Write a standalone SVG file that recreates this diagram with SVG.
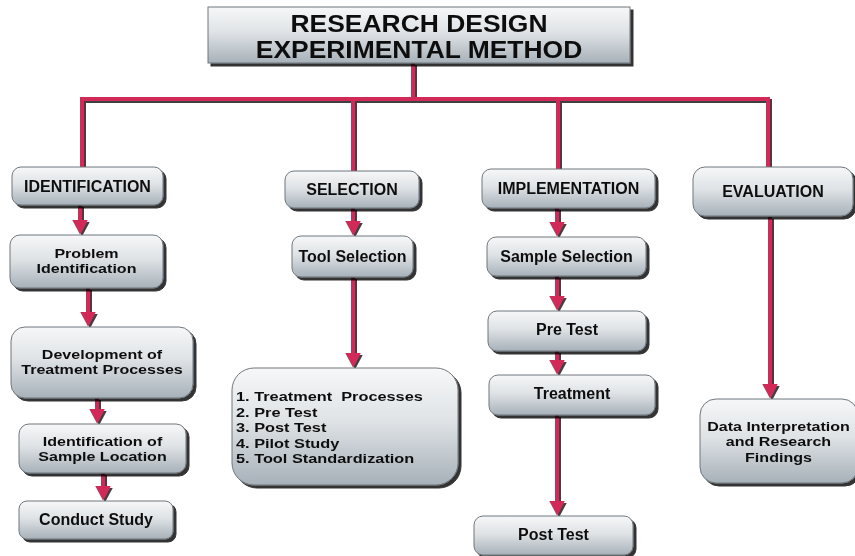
<svg xmlns="http://www.w3.org/2000/svg" width="855" height="556" viewBox="0 0 855 556">
  <defs>
    <linearGradient id="boxFill" x1="0" y1="0" x2="0" y2="1">
      <stop offset="0" stop-color="#f6f7f8"/>
      <stop offset="0.45" stop-color="#dfe3e6"/>
      <stop offset="1" stop-color="#a7b1b9"/>
    </linearGradient>
    <filter id="boxShadow" x="-5%" y="-10%" width="115%" height="130%">
      <feOffset in="SourceAlpha" dx="3" dy="3" result="off"/>
      <feGaussianBlur in="off" stdDeviation="0.7" result="blur"/>
      <feComponentTransfer in="blur" result="dark">
        <feFuncA type="linear" slope="0.8"/>
      </feComponentTransfer>
      <feMerge>
        <feMergeNode in="dark"/>
        <feMergeNode in="SourceGraphic"/>
      </feMerge>
    </filter>
    <filter id="lineShadow" x="-10%" y="-10%" width="120%" height="120%">
      <feOffset in="SourceAlpha" dx="2" dy="2" result="off"/>
      <feGaussianBlur in="off" stdDeviation="0.5" result="blur"/>
      <feComponentTransfer in="blur" result="dark">
        <feFuncA type="linear" slope="0.75"/>
      </feComponentTransfer>
      <feMerge>
        <feMergeNode in="dark"/>
        <feMergeNode in="SourceGraphic"/>
      </feMerge>
    </filter>
    <marker id="head" markerUnits="userSpaceOnUse" markerWidth="16" markerHeight="16" refX="0.5" refY="8" orient="auto">
      <path d="M0,0 L15,8 L0,16 Z" fill="#d12a58"/>
    </marker>
  </defs>
  <style>
    .box { fill: url(#boxFill); stroke: #6f777d; stroke-width: 1; }
    .node { filter: url(#boxShadow); }
    .t { font-family: "Liberation Sans", Arial, sans-serif; font-weight: bold; font-size: 16px; fill: #111; text-anchor: middle; }
    .title { font-size: 23px; }
    .small { font-size: 13.5px; }
    .list { text-anchor: start; }
    .wire { fill: none; stroke: #d12a58; stroke-width: 4; stroke-linejoin: miter; }
    .arrow { fill: none; stroke: #d12a58; stroke-width: 4; marker-end: url(#head); }
  </style>

  <rect width="855" height="556" fill="#ffffff"/>

  <!-- connectors -->
  <g id="connectors" filter="url(#lineShadow)">
    <path class="wire" d="M413,63 V99 M82,167 V99 H768 V167 M353,99 V171 M558,99 V169"/>
    <line class="arrow" x1="80" y1="205" x2="80" y2="220"/>
    <line class="arrow" x1="88" y1="288" x2="88" y2="312"/>
    <line class="arrow" x1="97" y1="398" x2="97" y2="409"/>
    <line class="arrow" x1="103" y1="473" x2="103" y2="486"/>
    <line class="arrow" x1="353" y1="208" x2="353" y2="221"/>
    <line class="arrow" x1="353" y1="277" x2="353" y2="353"/>
    <line class="arrow" x1="557" y1="208" x2="557" y2="222"/>
    <line class="arrow" x1="557" y1="276" x2="557" y2="296"/>
    <line class="arrow" x1="557" y1="351" x2="557" y2="360"/>
    <line class="arrow" x1="557" y1="415" x2="557" y2="501"/>
    <line class="arrow" x1="770" y1="217" x2="770" y2="384"/>
  </g>

  <!-- title -->
  <g id="title" class="node">
    <rect class="box" x="208" y="7" width="422" height="56"/>
    <g transform="translate(419 0) scale(1.15 1)">
      <text class="t title" x="0" y="32">RESEARCH DESIGN</text>
      <text class="t title" x="0" y="58">EXPERIMENTAL METHOD</text>
    </g>
  </g>

  <!-- identification column -->
  <g id="identification" class="node">
    <rect class="box" x="12" y="167" width="151" height="38" rx="9"/>
    <text class="t" x="87.5" y="192">IDENTIFICATION</text>
  </g>
  <g id="problem-identification" class="node">
    <rect class="box" x="10" y="235" width="153" height="53" rx="10"/>
    <g transform="translate(86.5 0) scale(1.19 1)">
      <text class="t small" x="0" y="258">Problem</text>
      <text class="t small" x="0" y="273.5">Identification</text>
    </g>
  </g>
  <g id="treatment-development" class="node">
    <rect class="box" x="11" y="327" width="182" height="71" rx="14"/>
    <g transform="translate(102 0) scale(1.19 1)">
      <text class="t small" x="0" y="359">Development of</text>
      <text class="t small" x="0" y="374.5">Treatment Processes</text>
    </g>
  </g>
  <g id="sample-location" class="node">
    <rect class="box" x="19" y="424" width="167" height="49" rx="10"/>
    <g transform="translate(102.5 0) scale(1.19 1)">
      <text class="t small" x="0" y="446">Identification of</text>
      <text class="t small" x="0" y="461.5">Sample Location</text>
    </g>
  </g>
  <g id="conduct-study" class="node">
    <rect class="box" x="19" y="501" width="154" height="38" rx="8"/>
    <text class="t" x="96" y="525">Conduct Study</text>
  </g>

  <!-- selection column -->
  <g id="selection" class="node">
    <rect class="box" x="285" y="171" width="134" height="37" rx="9"/>
    <text class="t" x="352" y="195">SELECTION</text>
  </g>
  <g id="tool-selection" class="node">
    <rect class="box" x="292" y="236" width="121" height="41" rx="9"/>
    <text class="t" x="352.5" y="262">Tool Selection</text>
  </g>
  <g id="selection-steps" class="node">
    <rect class="box" x="232" y="368" width="226" height="117" rx="22"/>
    <g transform="translate(236 0) scale(1.21 1)">
      <text class="t small list" x="0" y="401.5" xml:space="preserve">1. Treatment  Processes</text>
      <text class="t small list" x="0" y="417">2. Pre Test</text>
      <text class="t small list" x="0" y="432.5">3. Post Test</text>
      <text class="t small list" x="0" y="448">4. Pilot Study</text>
      <text class="t small list" x="0" y="463.5">5. Tool Standardization</text>
    </g>
  </g>

  <!-- implementation column -->
  <g id="implementation" class="node">
    <rect class="box" x="482" y="169" width="173" height="39" rx="9"/>
    <text class="t" x="568.5" y="194">IMPLEMENTATION</text>
  </g>
  <g id="sample-selection" class="node">
    <rect class="box" x="487" y="237" width="159" height="39" rx="9"/>
    <text class="t" x="566.5" y="262">Sample Selection</text>
  </g>
  <g id="pre-test" class="node">
    <rect class="box" x="488" y="311" width="158" height="40" rx="9"/>
    <text class="t" x="567" y="335">Pre Test</text>
  </g>
  <g id="treatment" class="node">
    <rect class="box" x="489" y="375" width="166" height="40" rx="9"/>
    <text class="t" x="572" y="399">Treatment</text>
  </g>
  <g id="post-test" class="node">
    <rect class="box" x="474" y="516" width="159" height="39" rx="9"/>
    <text class="t" x="553.5" y="540">Post Test</text>
  </g>

  <!-- evaluation column -->
  <g id="evaluation" class="node">
    <rect class="box" x="693" y="167" width="160" height="49" rx="12"/>
    <text class="t" x="773" y="197">EVALUATION</text>
  </g>
  <g id="data-interpretation" class="node">
    <rect class="box" x="700" y="399" width="158" height="84" rx="16"/>
    <g transform="translate(778.5 0) scale(1.19 1)">
      <text class="t small" x="0" y="431">Data Interpretation</text>
      <text class="t small" x="0" y="446.5">and Research</text>
      <text class="t small" x="0" y="462">Findings</text>
    </g>
  </g>
</svg>
